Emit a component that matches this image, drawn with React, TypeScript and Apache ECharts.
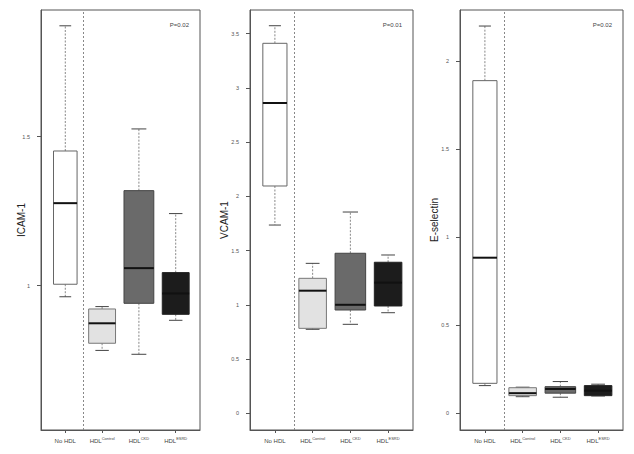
import React, { useEffect, useRef } from "react";
import * as echarts from "echarts";

// Group labels (base text + superscript)
const groupBase = ["No HDL", "HDL", "HDL", "HDL"];
const groupSup = ["", "Control", "CKD", "ESRD"];

// Box statistics per group: [low whisker, Q1, median, Q3, high whisker]
const icam1 = [
  [0.963, 1.005, 1.277, 1.452, 1.872],
  [0.783, 0.807, 0.874, 0.922, 0.93],
  [0.77, 0.941, 1.059, 1.319, 1.526],
  [0.884, 0.904, 0.974, 1.044, 1.242],
];
const vcam1 = [
  [1.735, 2.095, 2.86, 3.41, 3.572],
  [0.774, 0.783, 1.13, 1.244, 1.382],
  [0.82, 0.952, 1.0, 1.475, 1.855],
  [0.927, 0.989, 1.204, 1.392, 1.459],
];
const eSelectin = [
  [0.157, 0.17, 0.883, 1.888, 2.198],
  [0.094, 0.1, 0.114, 0.145, 0.148],
  [0.091, 0.114, 0.138, 0.151, 0.18],
  [0.098, 0.1, 0.128, 0.157, 0.165],
];

const yTicksIcam = [1, 1.5];
const yTicksVcam = [0, 0.5, 1, 1.5, 2, 2.5, 3, 3.5];
const yTicksEsel = [0, 0.5, 1, 1.5, 2];
const xTicks = [1, 2, 3, 4];

const pValues = ["P=0.02", "P=0.01", "P=0.02"];
const yNames = ["ICAM-1", "VCAM-1", "E-selectin"];

// Styling / layout
const panelData = [icam1, vcam1, eSelectin];
const panelYTicks = [yTicksIcam, yTicksVcam, yTicksEsel];
const panelYRange = [
  [0.516, 1.925],
  [-0.154, 3.717],
  [-0.095, 2.289],
];
const panelLeft = [41, 250, 460];
const panelWidth = [159, 163, 163];
const nameGaps = [15, 21, 21];
const BOX_W = [0.64, 0.73, 0.81, 0.73];
const FILLS = ["#ffffff", "#e2e2e2", "#6a6a6a", "#1c1c1c"];
const BORDERS = ["#666666", "#777777", "#444444", "#222222"];
const FONT = "'Liberation Sans', Arial, Helvetica, sans-serif";

export default function App() {
  const ref = useRef<HTMLDivElement>(null);

  useEffect(() => {
    if (!ref.current) return;
    const chart = echarts.init(ref.current, undefined, { renderer: "svg" });

    const grids = panelLeft.map((l, i) => ({
      left: l,
      width: panelWidth[i],
      top: 10,
      height: 420,
      show: true,
      borderColor: "#555",
      borderWidth: 1,
      backgroundColor: "transparent",
    }));

    const xAxes = panelLeft.map((_, i) => ({
      type: "value",
      gridIndex: i,
      position: "bottom",
      min: 0.34,
      max: 4.66,
      axisLine: { show: true, onZero: false, lineStyle: { color: "#555", width: 1 } },
      splitLine: { show: false },
      axisTick: {
        show: true,
        customValues: xTicks,
        length: 3,
        lineStyle: { color: "#555", width: 1 },
      },
      axisLabel: {
        show: true,
        customValues: xTicks,
        margin: 6,
        formatter: (v: number) => {
          const j = Math.round(v) - 1;
          if (j < 0 || j > 3) return "";
          return groupSup[j]
            ? `{b|${groupBase[j]}}{s|${groupSup[j]}}`
            : `{b|${groupBase[j]}}`;
        },
        rich: {
          b: { fontSize: 6, color: "#444", lineHeight: 9, fontFamily: FONT },
          s: {
            fontSize: 4,
            color: "#444",
            lineHeight: 9,
            verticalAlign: "top",
            fontFamily: FONT,
          },
        },
      },
    }));

    const yAxes = panelLeft.map((_, i) => ({
      type: "value",
      gridIndex: i,
      position: "left",
      min: panelYRange[i][0],
      max: panelYRange[i][1],
      axisLine: { show: true, onZero: false, lineStyle: { color: "#555", width: 1 } },
      splitLine: { show: false },
      axisTick: {
        show: true,
        customValues: panelYTicks[i],
        length: 4,
        lineStyle: { color: "#555", width: 1 },
      },
      axisLabel: {
        show: true,
        customValues: panelYTicks[i],
        margin: 11,
        fontSize: 5.5,
        color: "#555",
        fontFamily: FONT,
        formatter: (v: number) => String(v),
      },
      name: yNames[i],
      nameLocation: "middle",
      nameGap: nameGaps[i],
      nameMoveOverlap: false,
      nameTextStyle: { fontSize: 10, color: "#222", fontFamily: FONT },
    }));

    const series = panelData.map((data, i) => ({
      type: "custom",
      xAxisIndex: i,
      yAxisIndex: i,
      data: data.map((d, j) => [j + 1, ...d]),
      encode: { x: 0, y: [1, 2, 3, 4, 5] },
      renderItem: (params: any, api: any) => {
        const j = params.dataIndex;
        const x = api.value(0);
        const pLo = api.coord([x, api.value(1)]);
        const pQ1 = api.coord([x, api.value(2)]);
        const pMed = api.coord([x, api.value(3)]);
        const pQ3 = api.coord([x, api.value(4)]);
        const pHi = api.coord([x, api.value(5)]);
        const w = api.size([BOX_W[j], 0])[0];
        const cx = pMed[0];
        const half = w / 2;
        const cap = w / 4;
        const dash = { stroke: "#888", lineWidth: 1, lineDash: [2, 1.5] };
        const capStyle = { stroke: "#444", lineWidth: 1 };
        return {
          type: "group",
          children: [
            {
              type: "line",
              shape: { x1: cx, y1: pQ3[1], x2: cx, y2: pHi[1] },
              style: dash,
            },
            {
              type: "line",
              shape: { x1: cx, y1: pQ1[1], x2: cx, y2: pLo[1] },
              style: dash,
            },
            {
              type: "line",
              shape: { x1: cx - cap, y1: pHi[1], x2: cx + cap, y2: pHi[1] },
              style: capStyle,
            },
            {
              type: "line",
              shape: { x1: cx - cap, y1: pLo[1], x2: cx + cap, y2: pLo[1] },
              style: capStyle,
            },
            {
              type: "rect",
              shape: {
                x: cx - half,
                y: pQ3[1],
                width: w,
                height: pQ1[1] - pQ3[1],
              },
              style: { fill: FILLS[j], stroke: BORDERS[j], lineWidth: 1 },
            },
            {
              type: "line",
              shape: { x1: cx - half, y1: pMed[1], x2: cx + half, y2: pMed[1] },
              style: { stroke: "#111", lineWidth: 2 },
            },
          ],
        };
      },
      markLine: {
        silent: true,
        symbol: "none",
        label: { show: false },
        lineStyle: { color: "#888", width: 1, type: [2, 2] },
        data: [{ xAxis: 1.5 }],
      },
    }));

    const graphic = pValues.map((p, i) => ({
      type: "text",
      x: panelLeft[i] + panelWidth[i] - 11,
      y: 25,
      style: {
        text: p,
        fontSize: 6,
        fill: "#444",
        align: "right",
        verticalAlign: "middle",
        fontFamily: FONT,
      },
    }));

    chart.setOption({
      animation: false,
      backgroundColor: "#ffffff",
      textStyle: { fontFamily: FONT },
      grid: grids,
      xAxis: xAxes,
      yAxis: yAxes,
      series,
      graphic,
    } as any);

    return () => chart.dispose();
  }, []);

  return (
    <div
      ref={ref}
      style={{
        position: "fixed",
        left: 0,
        top: 0,
        width: 634,
        height: 454,
        background: "#fff",
      }}
    />
  );
}
